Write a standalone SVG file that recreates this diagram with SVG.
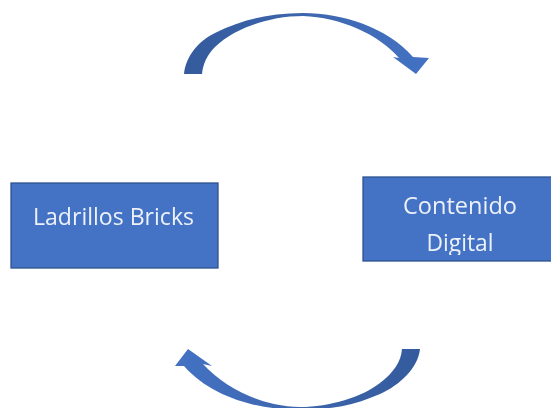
<svg xmlns="http://www.w3.org/2000/svg" width="551" height="408" viewBox="0 0 551 408">
  <defs>
    <linearGradient id="gradTop" gradientUnits="userSpaceOnUse" x1="184" y1="0" x2="429" y2="0">
      <stop offset="0" stop-color="#345a9c"/><stop offset="0.5" stop-color="#3d66ae"/><stop offset="1" stop-color="#4472c4"/>
    </linearGradient>
    <linearGradient id="gradBottom" gradientUnits="userSpaceOnUse" x1="420" y1="0" x2="175" y2="0">
      <stop offset="0" stop-color="#345a9c"/><stop offset="0.5" stop-color="#3d66ae"/><stop offset="1" stop-color="#4472c4"/>
    </linearGradient>
    <filter id="soft" x="-5%" y="-5%" width="110%" height="110%"><feGaussianBlur stdDeviation="0.6"/></filter>
    <filter id="softText" x="-5%" y="-20%" width="110%" height="140%"><feGaussianBlur stdDeviation="0.5"/></filter>
    <clipPath id="digitalClip"><rect x="363" y="177" width="188" height="78"/></clipPath>
  </defs>
  <style>
    .box { fill: #4472c4; stroke: #2f528f; stroke-width: 1.3; }
    .label { font-family: "Open Sans", "Noto Sans", sans-serif; font-size: 23px; fill: #ffffff; fill-opacity: 0.9; text-anchor: middle; filter: url(#softText); }
  </style>
  <g id="connectors">
    <path id="arrow-top" filter="url(#soft)" fill="url(#gradTop)" d="M184 74 C186 55 200 40 215 33 C240 20 270 13 303 13 C342 13 387 27 413 57 L429 58 L416 74 L393 57 L399 58 C380 35 340 17 303 16 C270 16 235 28 215 47 C207 55 203 64 202 74 Z"/>
    <path id="arrow-bottom" filter="url(#soft)" fill="url(#gradBottom)" d="M420 349 C418 368 400 385 380 394 C355 405 330 410 300 410 C260 410 212 398 184 366 L175 366 L188 349 L212 366 L203 364 C225 388 260 406 300 407 C330 407 362 397 380 383 C394 372 401 362 402 349 Z"/>
  </g>
  <g id="node-ladrillos">
    <rect class="box" x="11" y="183" width="207" height="85"/>
    <text class="label" x="113.500" y="225" textLength="161" lengthAdjust="spacingAndGlyphs">Ladrillos Bricks</text>
  </g>
  <g id="node-contenido">
    <rect class="box" x="363" y="177" width="190" height="84"/>
    <text class="label" x="460" y="214" textLength="114" lengthAdjust="spacingAndGlyphs">Contenido</text>
    <g clip-path="url(#digitalClip)"><text class="label" x="460" y="251" textLength="67" lengthAdjust="spacingAndGlyphs">Digital</text></g>
  </g>
</svg>
